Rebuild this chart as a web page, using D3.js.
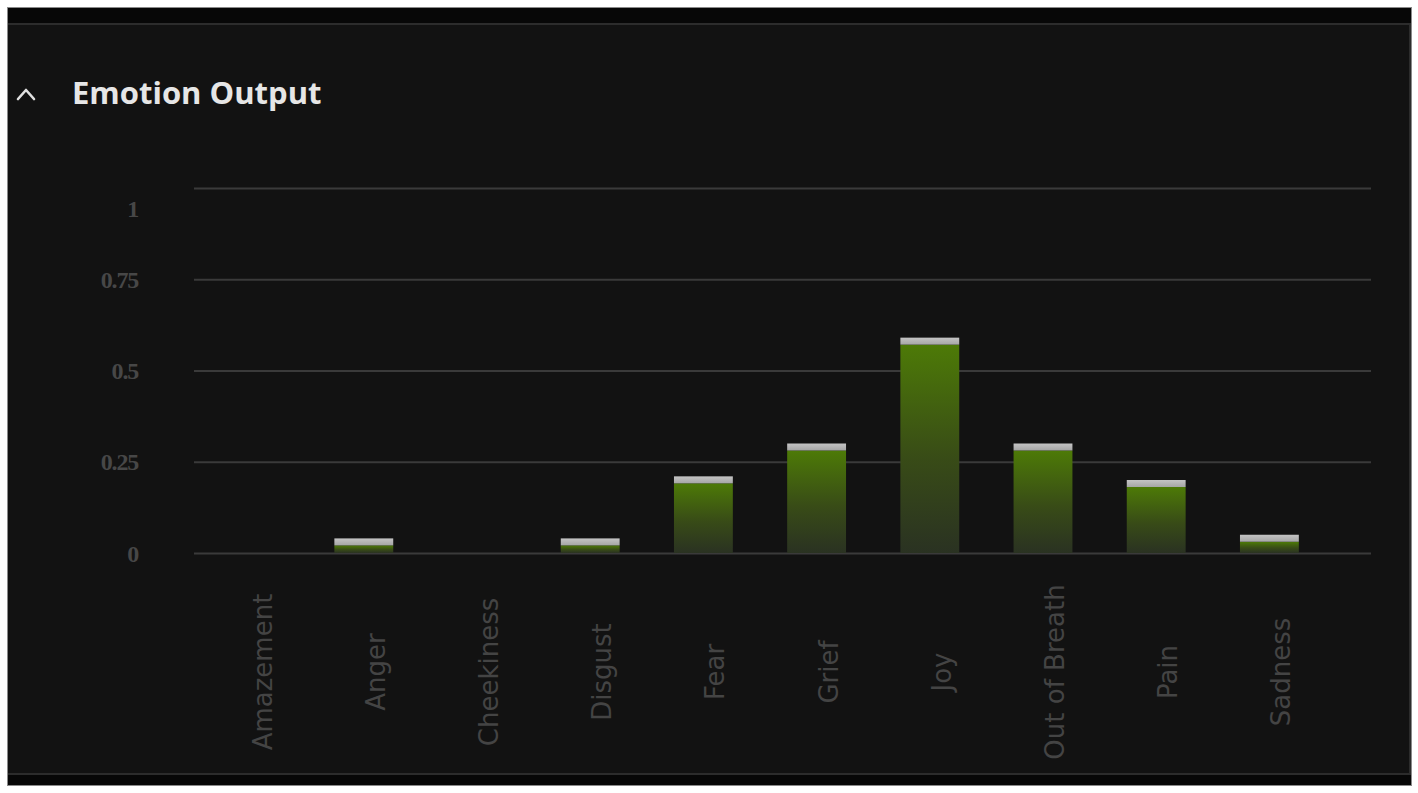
<!DOCTYPE html>
<html>
<head>
<meta charset="utf-8">
<script src="https://cdn.jsdelivr.net/npm/d3@7"></script>
<style>
  html, body { margin: 0; padding: 0; background: #ffffff; }
  svg { display: block; }
</style>
</head>
<body>
<svg id="chart" width="1418" height="793"></svg>
<script>
const categories = ["Amazement", "Anger", "Cheekiness", "Disgust", "Fear", "Grief", "Joy", "Out of Breath", "Pain", "Sadness"];
const values = [0, 0.04, 0, 0.04, 0.21, 0.30, 0.59, 0.30, 0.20, 0.05];
const yTicks = [0, 0.25, 0.5, 0.75, 1];
const yTickLabels = ["0", "0.25", "0.5", "0.75", "1"];
const title = "Emotion Output";

const svg = d3.select("#chart");

// panel frame
svg.append("rect").attr("x", 7).attr("y", 7).attr("width", 1405).attr("height", 779).attr("fill", "#8a8a8a");
svg.append("rect").attr("x", 8).attr("y", 8).attr("width", 1403).attr("height", 777).attr("fill", "#070707");
svg.append("rect").attr("x", 8).attr("y", 23).attr("width", 1403).attr("height", 752).attr("fill", "#2c2c2c");
svg.append("rect").attr("x", 8).attr("y", 25).attr("width", 1401).attr("height", 748).attr("fill", "#121212");

// header
svg.append("polyline")
  .attr("points", "18,99 26,90 34,99")
  .attr("fill", "none").attr("stroke", "#e0e0e0").attr("stroke-width", 2.6)
  .attr("stroke-linecap", "round").attr("stroke-linejoin", "round");
svg.append("text")
  .attr("x", 72).attr("y", 104)
  .attr("font-family", "'Open Sans', 'Noto Sans', sans-serif")
  .attr("font-weight", 700).attr("font-size", 31)
  .attr("fill", "#e6e6e6")
  .text(title);

// scales
const x = d3.scaleBand().domain(categories).range([194, 1326]).paddingInner(0.48).paddingOuter(0.24);
const y = d3.scaleLinear().domain([0, 1]).range([553, 188]);

// gridlines
const grid = svg.append("g").attr("transform", "translate(194,0)")
  .call(d3.axisRight(y).tickValues(yTicks).tickSize(1177).tickFormat(""));
grid.select(".domain").remove();
grid.selectAll(".tick line").attr("stroke", "#3a3a3a").attr("stroke-width", 2);

// y labels
const yAxis = svg.append("g").attr("transform", "translate(138,0)")
  .call(d3.axisLeft(y).tickValues(yTicks).tickSize(0).tickPadding(0)
    .tickFormat((d, i) => yTickLabels[i]));
yAxis.select(".domain").remove();
yAxis.selectAll(".tick text")
  .attr("font-family", "'Liberation Serif', 'Times New Roman', serif")
  .attr("font-size", 24).attr("font-weight", 700).attr("letter-spacing", -1.2)
  .attr("fill", "#474747").attr("dy", "0.34em");
yAxis.selectAll(".tick").filter(d => d === 1).select("text").attr("y", 20);

// gradient
const defs = svg.append("defs");
const grad = defs.append("linearGradient").attr("id", "barGrad")
  .attr("x1", 0).attr("y1", 0).attr("x2", 0).attr("y2", 1);
grad.append("stop").attr("offset", "0%").attr("stop-color", "#4d7a07");
grad.append("stop").attr("offset", "55%").attr("stop-color", "#384b17");
grad.append("stop").attr("offset", "100%").attr("stop-color", "#2a3222");
const capGrad = defs.append("linearGradient").attr("id", "capGrad")
  .attr("x1", 0).attr("y1", 0).attr("x2", 0).attr("y2", 1);
capGrad.append("stop").attr("offset", "0%").attr("stop-color", "#c4c4c4");
capGrad.append("stop").attr("offset", "100%").attr("stop-color", "#a6a6a6");

const data = categories.map((c, i) => ({ c, v: values[i] })).filter(d => d.v > 0);
const capH = 7;
const bars = svg.append("g");
bars.selectAll("rect.bar").data(data).join("rect").attr("class", "bar")
  .attr("x", d => x(d.c)).attr("width", x.bandwidth())
  .attr("y", d => y(d.v) + capH).attr("height", d => Math.max(0, y(0) - y(d.v) - capH))
  .attr("fill", "url(#barGrad)");
bars.selectAll("rect.cap").data(data).join("rect").attr("class", "cap")
  .attr("x", d => x(d.c)).attr("width", x.bandwidth())
  .attr("y", d => y(d.v)).attr("height", capH)
  .attr("fill", "url(#capGrad)");

// x labels
svg.append("g").selectAll("text").data(categories).join("text")
  .attr("transform", d => `translate(${x(d) + x.bandwidth() / 2 + 21},672) rotate(-90)`)
  .attr("text-anchor", "middle")
  .attr("font-family", "'DejaVu Sans', sans-serif")
  .attr("font-size", 26)
  .attr("fill", "#444444")
  .text(d => d);
</script>
</body>
</html>
